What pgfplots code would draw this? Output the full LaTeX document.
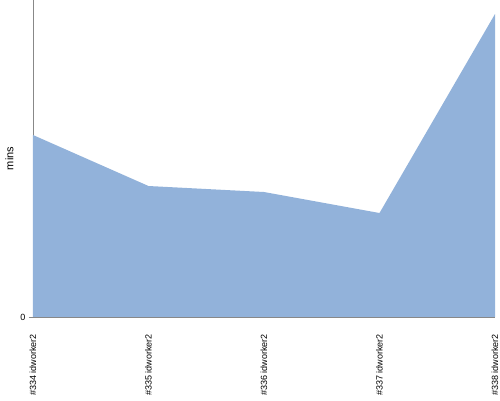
\documentclass[border=0pt]{standalone}
\usepackage{pgfplots}
\pgfplotsset{compat=1.18}
\usepackage{fontspec}
\setmainfont{Liberation Sans}
\definecolor{fillc}{HTML}{92B2DA}
\definecolor{axc}{HTML}{888888}
\begin{document}
\begin{tikzpicture}
\begin{axis}[
  scale only axis,
  width=462pt, height=317pt,
  xmin=0, xmax=4, ymin=0, ymax=317,
  axis x line*=bottom,
  axis y line*=left,
  x axis line style={draw=none},
  y axis line style={axc},
  xtick={0,1,2,3,4},
  xticklabels={\#334 idworker2,\#335 idworker2,\#336 idworker2,\#337 idworker2,\#338 idworker2},
  xtick style={draw=none},
  xticklabel style={rotate=90, anchor=east, inner sep=0pt, xshift=-13pt, font=\fontsize{9}{10}\selectfont},
  ytick={0}, yticklabels={0},
  ytick style={axc},
  tick align=outside,
  major tick length=4pt,
  yticklabel style={font=\fontsize{9}{10}\selectfont},
  /pgf/number format/assume math mode=true,
  ylabel={mins},
  ylabel style={font=\fontsize{11}{12}\selectfont},
  clip=false,
]
\addplot[draw=none, fill=fillc] coordinates {(0,182) (1,131) (2,125) (3,104) (4,303)} \closedcycle;
\draw[axc] (axis cs:0,0) -- (axis cs:4,0);
\coordinate (O) at (rel axis cs:0,0);
\end{axis}
\pgfresetboundingbox
\path ([shift={(-33pt,-83pt)}]O) rectangle ++(500pt,400pt);
\end{tikzpicture}
\end{document}
